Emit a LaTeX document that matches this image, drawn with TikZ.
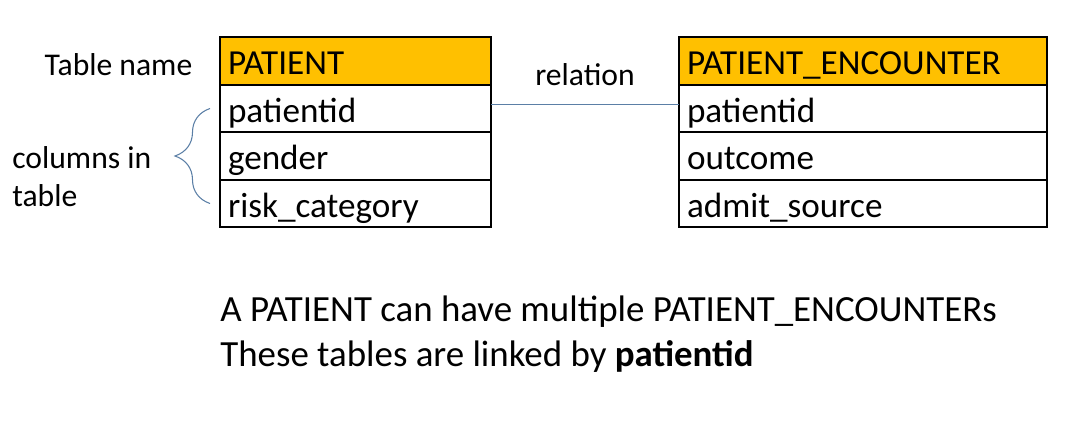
\documentclass[tikz,border=0pt]{standalone}
\usepackage{fontspec}
\setmainfont{Carlito}
\usetikzlibrary{positioning, decorations.pathreplacing}
\definecolor{headorange}{RGB}{255, 192, 0}
\definecolor{linkblue}{RGB}{91, 127, 166}

\begin{document}
\begin{tikzpicture}[
        cell/.style={rectangle, draw=black, line width=1.1pt, outer sep=0pt, inner xsep=0.16cm, inner ysep=0pt, minimum height=0.95cm, text width=#1, font=\fontsize{20}{24}\selectfont, execute at begin node={\rule[-0.18cm]{0pt}{0.92cm}}},
        head/.style={cell=#1, fill=headorange},
        note/.style={inner sep=0pt, align=left, font=\fontsize{18}{21.6}\selectfont},
        link/.style={draw=linkblue, line width=0.6pt}
    ]
        \useasboundingbox (0, 0) rectangle (21.7, -8.58);

        % PATIENT table
        \node[head=5.1cm] (pat) at (7.11, -1.22) {PATIENT};
        \node[cell=5.1cm, below=0pt of pat] (pid) {patientid};
        \node[cell=5.1cm, below=0pt of pid] (gen) {gender};
        \node[cell=5.1cm, below=0pt of gen] (risk) {risk\_category};

        % PATIENT_ENCOUNTER table
        \node[head=7.04cm] (enc) at (17.26, -1.22) {PATIENT\_ENCOUNTER};
        \node[cell=7.04cm, below=0pt of enc] (epid) {patientid};
        \node[cell=7.04cm, below=0pt of epid] (outc) {outcome};
        \node[cell=7.04cm, below=0pt of outc] (adm) {admit\_source};

        % Labels
        \node[note] (tname) at (2.37, -1.3) {Table name};
        \node[note] (rel) at (11.7, -1.5) {relation};
        \node[note, anchor=west] (cols) at (0.24, -3.54) {columns in\\table};

        % Relation and brace
        \draw[link] ([yshift=0.08cm]pid.east) -- ([yshift=0.08cm]epid.west);
        \draw[link, decorate, decoration={brace, amplitude=0.7cm}] ([xshift=-0.2cm]risk.west) -- ([xshift=-0.2cm]pid.west);

        % Caption
        \node[note, anchor=north west, font=\fontsize{21}{25.6}\selectfont] (cap) at (4.4, -5.92) {A PATIENT can have multiple PATIENT\_ENCOUNTERs\\These tables are linked by \textbf{patientid}};
    \end{tikzpicture}
\end{document}
